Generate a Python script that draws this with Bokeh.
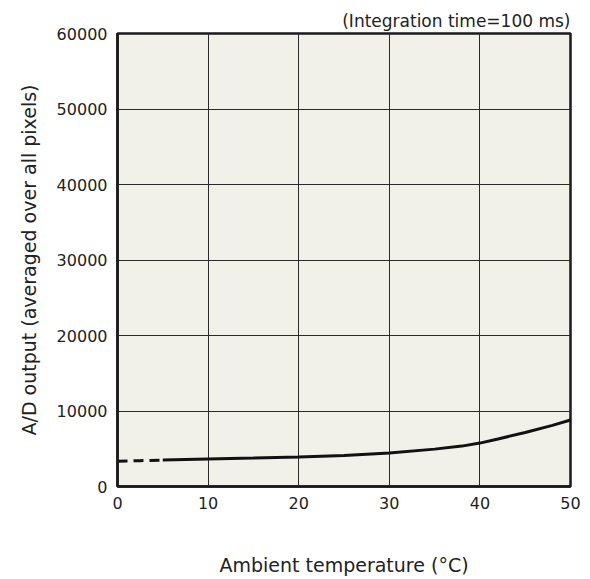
from bokeh.plotting import figure
from bokeh.embed import file_html
from bokeh.resources import INLINE
from bokeh.models import Range1d, FixedTicker, Title

# Data
temp_dashed = [0, 2.5, 5]
out_dashed = [3350, 3420, 3500]
temp_solid = [5, 10, 15, 20, 25, 30, 35, 38, 40, 42, 45, 48, 50]
out_solid = [3500, 3650, 3780, 3920, 4100, 4450, 4950, 5350, 5750, 6300, 7150, 8100, 8800]
x_ticks = [0, 10, 20, 30, 40, 50]
y_ticks = [0, 10000, 20000, 30000, 40000, 50000, 60000]

FONT = "DejaVu Sans"
TXT = "#222222"

p = figure(width=582, height=578, output_backend="svg", toolbar_location=None,
           x_range=Range1d(0, 50), y_range=Range1d(0, 60000),
           min_border_left=117, min_border_right=12, min_border_bottom=87, min_border_top=33)
p.border_fill_color = "white"
p.background_fill_color = "#f1f0e9"
p.outline_line_color = "#1a1a1a"
p.outline_line_width = 2.5

p.add_layout(Title(text="(Integration time=100 ms)", align="right", text_font=FONT,
                   text_font_size="17px", text_font_style="normal", text_color=TXT,
                   standoff=5), "above")

for ax in (p.xaxis[0], p.yaxis[0]):
    ax.major_tick_in = 0
    ax.major_tick_out = 0
    ax.minor_tick_in = 0
    ax.minor_tick_out = 0
    ax.axis_line_color = "#1a1a1a"
    ax.axis_line_width = 2.5
    ax.major_label_text_font = FONT
    ax.major_label_text_font_size = "16px"
    ax.major_label_text_color = TXT
    ax.axis_label_text_font = FONT
    ax.axis_label_text_font_size = "19px"
    ax.axis_label_text_font_style = "normal"
    ax.axis_label_text_color = TXT

p.xaxis[0].ticker = FixedTicker(ticks=x_ticks)
p.yaxis[0].ticker = FixedTicker(ticks=y_ticks)
p.xaxis[0].major_label_standoff = 10
p.yaxis[0].major_label_standoff = 10
p.xaxis[0].axis_label = "Ambient temperature (°C)"
p.yaxis[0].axis_label = "A/D output (averaged over all pixels)"
p.xaxis[0].axis_label_standoff = 42
p.yaxis[0].axis_label_standoff = 14

p.xgrid.grid_line_color = "#2a2a2a"
p.ygrid.grid_line_color = "#2a2a2a"
p.xgrid.grid_line_width = 1
p.ygrid.grid_line_width = 1

p.line(temp_dashed, out_dashed, line_color="#111111", line_width=3, line_dash="10 6")
p.line(temp_solid, out_solid, line_color="#111111", line_width=3)

open("out.html", "w").write(file_html(p, INLINE))
